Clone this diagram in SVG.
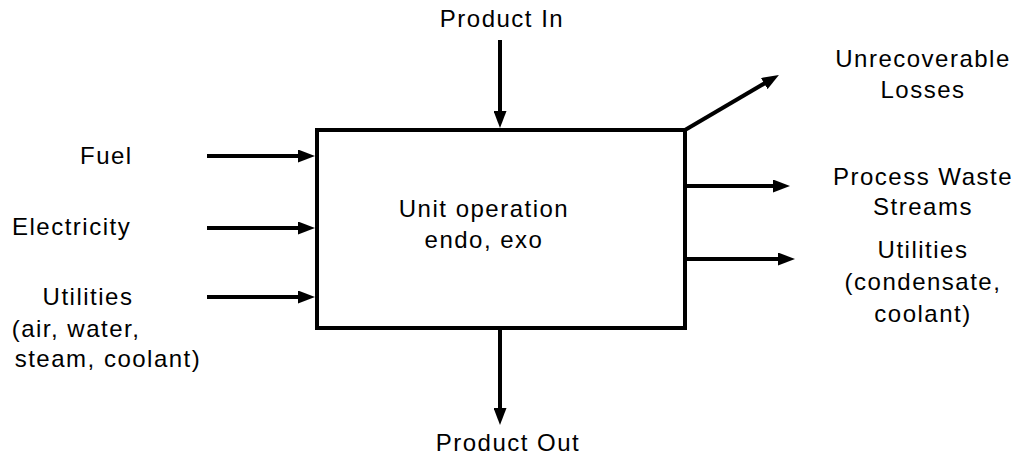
<svg xmlns="http://www.w3.org/2000/svg" width="1025" height="461" viewBox="0 0 1025 461">
<defs>
<marker id="ah" viewBox="0 0 17 13" refX="9" refY="6.5" markerWidth="17" markerHeight="13" markerUnits="userSpaceOnUse" orient="auto">
<path d="M0,0 L17,6.5 L0,13 Z" fill="#000"/>
</marker>
<style>
text{font-family:"Liberation Sans",Arial,sans-serif;font-size:24px;letter-spacing:1.5px;fill:#000}
.c{text-anchor:middle}
.ln{stroke:#000;stroke-width:4;fill:none;marker-end:url(#ah)}
</style>
</defs>
<rect width="1025" height="461" fill="#fff"/>
<g id="unit-operation">
<rect x="317" y="130" width="368" height="198" fill="#fff" stroke="#000" stroke-width="4"/>
<text class="c" x="484" y="217">Unit operation</text>
<text class="c" x="484" y="248">endo, exo</text>
</g>
<g id="product-in"><text class="c" x="502" y="27">Product In</text></g>
<g id="product-out"><text class="c" x="508" y="451">Product Out</text></g>
<g id="fuel"><text x="80" y="164">Fuel</text></g>
<g id="electricity"><text x="12" y="235">Electricity</text></g>
<g id="utilities-in"><text class="c" x="88" y="305">Utilities</text><text class="c" x="76" y="337">(air, water,</text><text class="c" x="108" y="367">steam, coolant)</text></g>
<g id="losses"><text class="c" x="923" y="67">Unrecoverable</text><text class="c" x="923" y="98">Losses</text></g>
<g id="waste"><text class="c" x="923" y="185">Process Waste</text><text class="c" x="923" y="215">Streams</text></g>
<g id="utilities-out"><text class="c" x="923" y="258">Utilities</text><text class="c" x="923" y="290">(condensate,</text><text class="c" x="923" y="322">coolant)</text></g>
<g id="connectors">
<line class="ln" x1="500" y1="40" x2="500" y2="120"/>
<line class="ln" x1="500" y1="330" x2="500" y2="417"/>
<line class="ln" x1="207" y1="156" x2="307" y2="156"/>
<line class="ln" x1="207" y1="228" x2="307" y2="228"/>
<line class="ln" x1="207" y1="297" x2="307" y2="297"/>
<line class="ln" x1="685" y1="130" x2="772" y2="79"/>
<line class="ln" x1="687" y1="186" x2="782" y2="186"/>
<line class="ln" x1="687" y1="259" x2="787" y2="259"/>
</g>
</svg>
